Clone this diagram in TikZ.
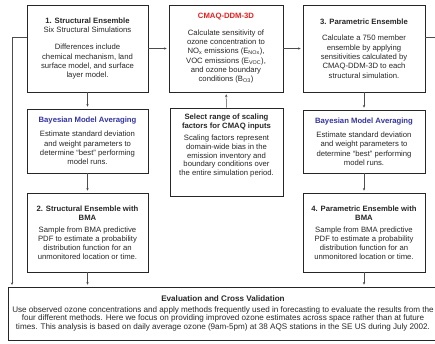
\documentclass[tikz,border=0pt]{standalone}
\usepackage{fontspec}
\setmainfont{Liberation Sans}
\usetikzlibrary{arrows.meta}

\definecolor{ddmred}{RGB}{232,32,32}
\definecolor{bmablue}{RGB}{52,52,160}
\definecolor{txtgray}{RGB}{40,40,40}

\tikzset{
  every node/.style={font=\fontsize{7.7}{9.3}\selectfont, text=txtgray},
  stagebox/.style={draw=black!85, line width=0.8pt, fill=white, align=center, inner sep=1pt},
  flow/.style={-{Stealth[length=2.6pt,width=2.4pt]}, draw=black!70, line width=0.5pt, shorten >=2pt}
}

\begin{document}
\begin{tikzpicture}[x=1pt,y=-1pt]
			\clip (0,0) rectangle (435,343);
			\fill[white] (0,0) rectangle (435,343);
			
			% Top row
			\node[stagebox, minimum width=121pt, minimum height=87pt] (S1) at (87.5,48.5)
			  {\textbf{1. Structural Ensemble}\\Six Structural Simulations\\[8pt]
			   Differences include\\chemical mechanism, land\\surface model, and surface\\layer model.};
			\node[stagebox, minimum width=114pt, minimum height=87pt] (DDM) at (226,48.5)
			  {\textcolor{ddmred}{\textbf{CMAQ-DDM-3D}}\\[7pt]
			   Calculate sensitivity of\\ozone concentration to\\
			   NO\textsubscript{x} emissions (E\textsubscript{NOx}),\\
			   VOC emissions (E\textsubscript{VOC}),\\and ozone boundary\\
			   conditions (B\textsubscript{O3})};
			\node[stagebox, minimum width=122pt, minimum height=87pt] (P3) at (364,48.5)
			  {\textbf{3. Parametric Ensemble}\\[7pt]
			   Calculate a 750 member\\ensemble by applying\\sensitivities calculated by\\
			   CMAQ-DDM-3D to each\\structural simulation.};
			
			% Middle row
			\node[stagebox, minimum width=121pt, minimum height=64pt] (BMAL) at (87.5,141)
			  {\textcolor{bmablue}{\textbf{Bayesian Model Averaging}}\\[5pt]
			   Estimate standard deviation\\and weight parameters to\\
			   determine “best” performing\\model runs.};
			\node[stagebox, minimum width=113pt, minimum height=88pt, font=\fontsize{7.7}{8.7}\selectfont] (SF) at (226.5,152)
			  {\textbf{Select range of scaling}\\\textbf{factors for CMAQ inputs}\\[4pt]
			   Scaling factors represent\\domain-wide bias in the\\emission inventory and\\
			   boundary conditions over\\the entire simulation period.\\[6pt]};
			\node[stagebox, minimum width=122pt, minimum height=63pt] (BMAR) at (364,141.5)
			  {\textcolor{bmablue}{\textbf{Bayesian Model Averaging}}\\[5pt]
			   Estimate standard deviation\\and weight parameters to\\
			   determine “best” performing\\model runs.};
			
			% Bottom row
			\node[stagebox, minimum width=121pt, minimum height=79pt, font=\fontsize{7.7}{8.7}\selectfont] (S2) at (87.5,232.5)
			  {\textbf{2. Structural Ensemble with}\\\textbf{BMA}\\[4pt]
			   Sample from BMA predictive\\PDF to estimate a probability\\
			   distribution function for an\\unmonitored location or time.};
			\node[stagebox, minimum width=122pt, minimum height=79pt, font=\fontsize{7.7}{8.7}\selectfont] (P4) at (364,232.5)
			  {\textbf{4. Parametric Ensemble with}\\\textbf{BMA}\\[4pt]
			   Sample from BMA predictive\\PDF to estimate a probability\\
			   distribution function for an\\unmonitored location or time.};
			
			% Evaluation box (runs off the right edge)
			\node[stagebox, minimum width=430pt, minimum height=53pt, font=\fontsize{8.1}{8.6}\selectfont] (EV) at (223,313.5)
			  {\textbf{Evaluation and Cross Validation}\\[1.5pt]
			   Use observed ozone concentrations and apply methods frequently used in forecasting to evaluate the results from the\\
			   four different methods.  Here we focus on providing improved ozone estimates across space rather than at future\\
			   times.  This analysis is based on daily average ozone (9am-5pm) at 38 AQS stations in the SE US during July 2002.};
			
			% Free ends of the side lines
			\coordinate (LT) at (12,37);
			\coordinate (LB) at (12,287);
			\coordinate (RT) at (436,37);
			
			% Connectors
			\draw[flow] (S1) -- (DDM);
			\draw[flow] (DDM) -- (P3);
			\draw[flow] (SF) -- (DDM);
			\draw[flow] (S1) -- (BMAL);
			\draw[flow] (BMAL) -- (S2);
			\draw[flow] (P3) -- (BMAR);
			\draw[flow] (BMAR) -- (P4);
			\draw[flow] (S2.south) -- (S2.south |- EV.north);
			\draw[flow] (P4.south) -- (P4.south |- EV.north);
			\draw[flow] (S1.west |- LT) -- (LT) -- (LB);
			\draw[draw=black!70, line width=0.5pt] (P3.east |- RT) -- (RT);
		\end{tikzpicture}
\end{document}
